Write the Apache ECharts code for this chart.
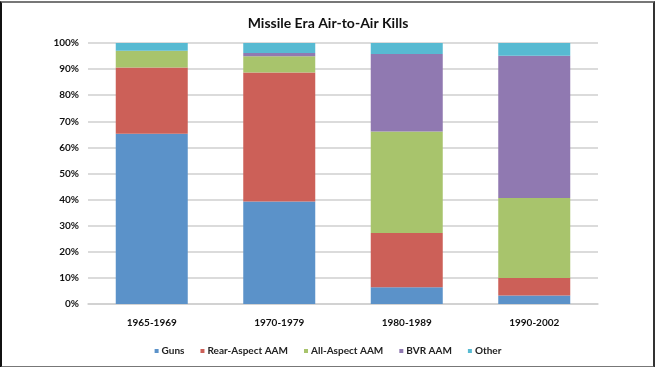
<!DOCTYPE html>
<html>
<head>
<meta charset="utf-8">
<script src="https://cdn.jsdelivr.net/npm/echarts@6/dist/echarts.min.js"></script>
<style>
html,body{margin:0;padding:0;background:#fff;}
#frame{position:absolute;left:0;top:1px;width:651px;height:363px;border-left:2px solid #111;border-top:2px solid #777;border-right:2px solid #333;border-bottom:2px solid #777;}
#chart{position:absolute;left:0;top:0;width:656px;height:367px;}
</style>
</head>
<body>
<div id="frame"></div>
<div id="chart"></div>
<script>
const categories = ['1965-1969', '1970-1979', '1980-1989', '1990-2002'];
const seriesNames = ['Guns', 'Rear-Aspect AAM', 'All-Aspect AAM', 'BVR AAM', 'Other'];
const guns = [65.2, 39.3, 6.4, 3.3];
const rearAspect = [25.4, 49.4, 20.8, 6.7];
const allAspect = [6.4, 6.2, 38.9, 30.6];
const bvr = [0, 1.3, 29.7, 54.5];
const other = [3.0, 3.8, 4.2, 4.9];
const yTicks = [0, 10, 20, 30, 40, 50, 60, 70, 80, 90, 100];
const colors = ['#5B92C9', '#CC6058', '#A8C46C', '#9079B1', '#57BAD2'];

const values = [guns, rearAspect, allAspect, bvr, other];
const font = 'Lato, "Open Sans", sans-serif';
const chart = echarts.init(document.getElementById('chart'), null, {renderer: 'canvas'});
chart.setOption({
  animation: false,
  color: colors,
  title: {
    text: 'Missile Era Air-to-Air Kills',
    left: 'center',
    top: 11,
    textStyle: {fontFamily: font, fontSize: 14, fontWeight: 'bold', color: '#111'}
  },
  legend: {
    bottom: 6,
    left: 'center',
    itemWidth: 4,
    itemHeight: 4,
    itemGap: 16,
    icon: 'rect',
    data: seriesNames,
    textStyle: {fontFamily: font, fontSize: 10, fontWeight: 'bold', color: '#222', padding: [0, 0, 0, -2]}
  },
  grid: {left: 88, right: 58, top: 43, bottom: 63, containLabel: false},
  xAxis: {
    type: 'category',
    data: categories,
    axisTick: {show: false},
    axisLine: {show: true, lineStyle: {color: '#cfcfcf', width: 1.5}},
    axisLabel: {fontFamily: font, fontSize: 10, fontWeight: 'bold', color: '#111', margin: 14}
  },
  yAxis: {
    type: 'value',
    min: 0,
    max: 100,
    interval: 10,
    axisLine: {show: false},
    axisTick: {show: false},
    splitLine: {lineStyle: {color: '#cfcfcf', width: 1.5}},
    axisLabel: {
      fontFamily: font, fontSize: 10, fontWeight: 'bold', color: '#111', margin: 9,
      formatter: v => (yTicks.includes(v) ? v + '%' : '')
    }
  },
  series: seriesNames.map((name, i) => ({
    name: name,
    type: 'bar',
    stack: 'total',
    barWidth: 72,
    data: values[i],
    itemStyle: {color: colors[i]}
  }))
});
</script>
</body>
</html>
